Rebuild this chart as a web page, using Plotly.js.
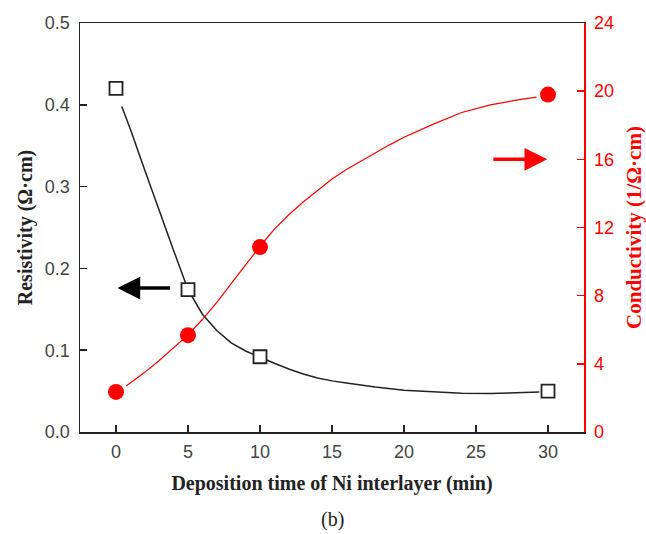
<!DOCTYPE html>
<html>
<head>
<meta charset="utf-8">
<script src="https://cdn.plot.ly/plotly-3.0.1.min.js"></script>
<style>html,body{margin:0;padding:0;background:#fff;}#chart{width:646px;height:534px;}</style>
</head>
<body>
<div id="chart"></div>
<script>
// Measured data
var timeMin = [0, 5, 10, 30];
var resistivity = [0.42, 0.174, 0.092, 0.050];
var conductivity = [2.35, 5.68, 10.85, 19.8];

// Fit curves
var resFitX = [0.4, 1, 2, 3, 4, 5, 6, 7, 8, 9, 10, 11, 12, 13, 14, 15, 16, 17, 18, 20, 22, 24, 26, 28, 29.4];
var resFitY = [0.398, 0.37, 0.32, 0.27, 0.222, 0.174, 0.144, 0.124, 0.109, 0.099, 0.091, 0.084, 0.077, 0.071, 0.066, 0.0625, 0.06, 0.0575, 0.055, 0.051, 0.049, 0.0475, 0.047, 0.048, 0.049];
var conFitX = [0.7, 2, 3, 4, 5, 6, 7, 8, 9, 10, 11, 12, 13, 14, 15, 16, 17, 18, 19, 20, 22, 24, 26, 28, 29.2];
var conFitY = [2.7, 3.5, 4.2, 4.95, 5.7, 6.6, 7.6, 8.7, 9.8, 10.9, 11.9, 12.75, 13.5, 14.2, 14.85, 15.4, 15.9, 16.4, 16.85, 17.3, 18.05, 18.75, 19.2, 19.5, 19.65];

var xTicks = [0, 5, 10, 15, 20, 25, 30];
var yTicks = [0, 0.1, 0.2, 0.3, 0.4, 0.5];
var y2Ticks = [0, 4, 8, 12, 16, 20, 24];

var RED = '#ff0000';
var tickFont = {family: 'Liberation Sans, Arial, sans-serif', size: 18, color: '#444'};
var serif = 'Liberation Serif, Times New Roman, serif';

var traces = [
  {x: resFitX, y: resFitY, mode: 'lines', line: {color: '#222', width: 1.5}, xaxis: 'x', yaxis: 'y', hoverinfo: 'skip'},
  {x: conFitX, y: conFitY, mode: 'lines', line: {color: RED, width: 1.2}, xaxis: 'x', yaxis: 'y2', hoverinfo: 'skip'},
  {x: timeMin, y: resistivity, mode: 'markers', marker: {symbol: 'square', size: 13, color: '#fff', line: {color: '#222', width: 1.8}}, xaxis: 'x', yaxis: 'y'},
  {x: timeMin, y: conductivity, mode: 'markers', marker: {symbol: 'circle', size: 16, color: RED, line: {width: 0}}, xaxis: 'x', yaxis: 'y2'}
];

var layout = {
  width: 646, height: 534,
  margin: {l: 80, r: 62, t: 23, b: 102},
  paper_bgcolor: '#fff', plot_bgcolor: '#fff',
  showlegend: false,
  xaxis: {
    range: [-2.5, 32.5], tickvals: xTicks, ticktext: xTicks.map(String),
    ticks: 'inside', ticklen: 7, tickwidth: 1.5, tickcolor: '#222',
    showline: true, linecolor: '#222', linewidth: 1.5, mirror: true,
    showgrid: false, zeroline: false, tickfont: tickFont, ticklabelstandoff: 3,
    title: {text: '<b>Deposition time of Ni interlayer (min)</b>', font: {family: serif, size: 20, color: '#222'}, standoff: 15},
    automargin: false
  },
  yaxis: {
    range: [0, 0.5], tickvals: yTicks, ticktext: yTicks.map(function(v){return v.toFixed(1);}),
    ticks: 'inside', ticklen: 7, tickwidth: 1.5, tickcolor: '#222',
    showline: true, linecolor: '#222', linewidth: 1.5,
    showgrid: false, zeroline: false, tickfont: tickFont, ticklabelstandoff: 5,
    title: {text: '<b>Resistivity (Ω·cm)</b>', font: {family: serif, size: 20, color: '#222'}, standoff: 7},
    automargin: false
  },
  yaxis2: {
    range: [0, 24], tickvals: y2Ticks, ticktext: y2Ticks.map(String),
    overlaying: 'y', side: 'right',
    ticks: 'inside', ticklen: 7, tickwidth: 1.5, tickcolor: RED,
    showline: true, linecolor: RED, linewidth: 1.5,
    showgrid: false, zeroline: false, ticklabelstandoff: 5,
    tickfont: {family: tickFont.family, size: 18, color: RED},
    title: {text: '<b>Conductivity (1/Ω·cm)</b>', font: {family: serif, size: 21, color: RED}, standoff: 13},
    automargin: false
  },
  annotations: [
    {xref: 'x', yref: 'y', axref: 'x', ayref: 'y', x: 0.1, y: 0.176, ax: 3.85, ay: 0.176,
     text: '', showarrow: true, arrowhead: 2, arrowsize: 1.3, arrowwidth: 3.5, arrowcolor: '#000'},
    {xref: 'x', yref: 'y2', axref: 'x', ayref: 'y2', x: 29.95, y: 16.0, ax: 26.1, ay: 16.0,
     text: '', showarrow: true, arrowhead: 2, arrowsize: 1.3, arrowwidth: 3.5, arrowcolor: RED},
    {xref: 'paper', yref: 'paper', x: 0.5, y: -0.215, yanchor: 'middle', xanchor: 'center',
     text: '(b)', showarrow: false, font: {family: serif, size: 20, color: '#222'}}
  ]
};

Plotly.newPlot('chart', traces, layout, {displayModeBar: false, staticPlot: true});
</script>
</body>
</html>
